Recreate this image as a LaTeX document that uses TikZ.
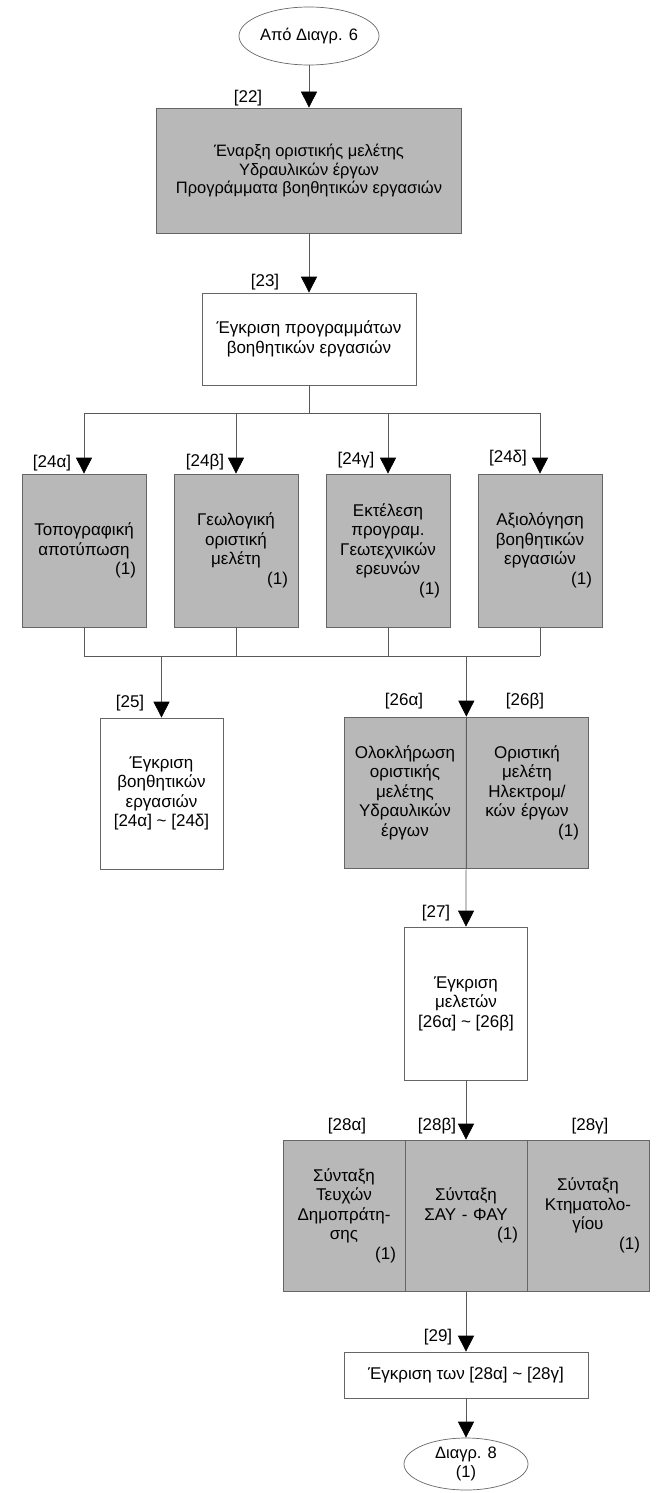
\documentclass[tikz,border=0pt]{standalone}
\usepackage{fontspec}
\setmainfont{Liberation Sans}
\usepackage{tikz}
\usetikzlibrary{arrows.meta,shapes.geometric}

\begin{document}
\begin{tikzpicture}[x=1pt,y=-1pt,
	box/.style={draw=black!60,line width=0.7pt,inner sep=0pt,align=center,
		font=\fontsize{17}{19.5}\selectfont},
	greybox/.style={box,fill=black!28},
	whitebox/.style={box,fill=white},
	oval/.style={ellipse,draw=black!60,line width=0.7pt,inner sep=0pt,align=center,
		font=\fontsize{16.5}{19.5}\selectfont},
	lbl/.style={inner sep=0pt,font=\fontsize{17}{19.5}\selectfont},
	arr/.style={draw=black!65,line width=0.7pt,-{Triangle[width=16pt,length=16pt,black]}},
	conn/.style={draw=black!65,line width=0.7pt}]

\useasboundingbox (0,0) rectangle (667,1493);

\node[oval,minimum width=140,minimum height=58] (start) at (309,36) {Από Διαγρ. 6};

\node[greybox,minimum width=305,minimum height=125,font=\fontsize{16.5}{18.5}\selectfont] (b22) at (309,170.5)
	{Έναρξη οριστικής μελέτης\\Υδραυλικών έργων\\Προγράμματα βοηθητικών εργασιών};
\node[whitebox,minimum width=214,minimum height=92] (b23) at (309,339)
	{Έγκριση προγραμμάτων\\βοηθητικών εργασιών};

\node[greybox,minimum width=124,minimum height=153,text width=104] (b24a) at (84,550.5)
	{Τοπογραφική\\αποτύπωση\\\hskip0pt plus1filll(1)};
\node[greybox,minimum width=124,minimum height=153,text width=104] (b24b) at (236,550.5)
	{Γεωλογική\\οριστική\\μελέτη\\\hskip0pt plus1filll(1)};
\node[greybox,minimum width=124,minimum height=153,text width=104] (b24c) at (388,550.5)
	{Εκτέλεση\\προγραμ.\\Γεωτεχνικών\\ερευνών\\\hskip0pt plus1filll(1)};
\node[greybox,minimum width=124,minimum height=153,text width=104] (b24d) at (540,550.5)
	{Αξιολόγηση\\βοηθητικών\\εργασιών\\\hskip0pt plus1filll(1)};

\node[whitebox,minimum width=123,minimum height=151] (b25) at (161.5,793.5)
	{Έγκριση\\βοηθητικών\\εργασιών\\{[24α] \char`~\ [24δ]}};

\node[greybox,minimum width=122,minimum height=151,text width=112] (b26a) at (405,792.5)
	{Ολοκλήρωση\\οριστικής\\μελέτης\\Υδραυλικών\\έργων};
\node[greybox,minimum width=122,minimum height=151,text width=104] (b26b) at (527,792.5)
	{Οριστική\\μελέτη\\Ηλεκτρομ/\\κών έργων\\\hskip0pt plus1filll(1)};

\node[whitebox,minimum width=123,minimum height=153] (b27) at (466,1003.5)
	{Έγκριση\\μελετών\\{[26α] \char`~\ [26β]}};

\node[greybox,minimum width=122,minimum height=151,text width=104] (b28a) at (344,1215.5)
	{Σύνταξη\\Τευχών\\Δημοπράτη-\\σης\\\hskip0pt plus1filll(1)};
\node[greybox,minimum width=122,minimum height=151,text width=104] (b28b) at (466,1215.5)
	{Σύνταξη\\ΣΑΥ - ΦΑΥ\\\hskip0pt plus1filll(1)};
\node[greybox,minimum width=122,minimum height=151,text width=104] (b28c) at (588,1215.5)
	{Σύνταξη\\Κτηματολο-\\γίου\\\hskip0pt plus1filll(1)};

\node[whitebox,minimum width=244,minimum height=46] (b29) at (466,1375)
	{Έγκριση των [28α] \char`~\ [28γ]};

\node[oval,minimum width=124,minimum height=52] (end) at (466,1464) {Διαγρ. 8\\(1)};

\node[lbl] (l22) at (248,98) {[22]};
\node[lbl] (l23) at (265,282) {[23]};
\node[lbl] (l24a) at (52,463) {[24α]};
\node[lbl] (l24b) at (205,462) {[24β]};
\node[lbl] (l24c) at (356,460) {[24γ]};
\node[lbl] (l24d) at (508,458) {[24δ]};
\node[lbl] (l25) at (130,703) {[25]};
\node[lbl] (l26a) at (404,701) {[26α]};
\node[lbl] (l26b) at (525,701) {[26β]};
\node[lbl] (l27) at (436,913) {[27]};
\node[lbl] (l28a) at (347,1126) {[28α]};
\node[lbl] (l28b) at (437,1126) {[28β]};
\node[lbl] (l28c) at (590,1126) {[28γ]};
\node[lbl] (l29) at (438,1337) {[29]};

\coordinate (br) at (309,413);
\coordinate (jn) at (309,656);

\draw[arr] (start.south) -- (b22.north);
\draw[arr] (b22.south) -- (b23.north);

\draw[conn] (b23.south) -- (br);
\draw[conn] (b24a.north |- br) -- (b24d.north |- br);
\foreach \n in {b24a,b24b,b24c,b24d}{
	\draw[arr] (\n.north |- br) -- (\n.north);
}

\foreach \n in {b24a,b24b,b24c,b24d}{
	\draw[conn] (\n.south) -- (\n.south |- jn);
}
\draw[conn] (b24a.south |- jn) -- (b24d.south |- jn);

\draw[arr] (b25.north |- jn) -- (b25.north);
\draw[arr] (b26a.north east |- jn) -- (b26a.north east);
\draw[arr] (b26a.north east) -- (b27.north);

\draw[arr] (b27.south) -- (b28b.north);
\draw[arr] (b28b.south) -- (b29.north);
\draw[arr] (b29.south) -- (end.north);

\end{tikzpicture}
\end{document}
